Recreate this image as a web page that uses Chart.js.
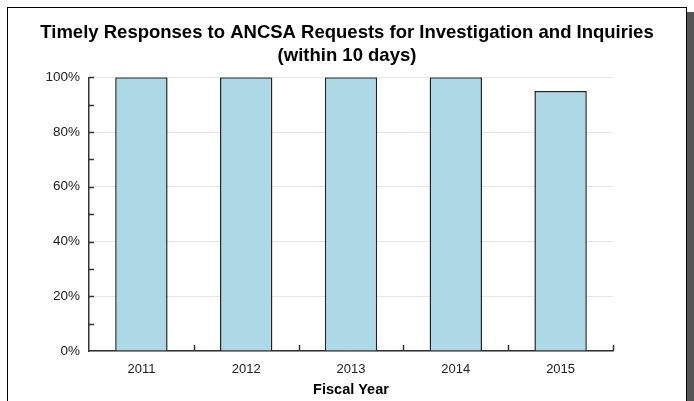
<!DOCTYPE html>
<html>
<head>
<meta charset="utf-8">
<script src="https://cdn.jsdelivr.net/npm/chart.js@4/dist/chart.umd.min.js"></script>
<style>
  html, body { margin: 0; padding: 0; background: #fff; overflow: hidden; }
  #frame {
    position: absolute; left: 7px; top: 7px; width: 678px; height: 420px;
    border-left: 1px solid #000; border-top: 1px solid #000; border-right: 1px solid #000;
    box-shadow: 8px 5px 0 #555;
    background: #fff;
  }
  #wrap { position: absolute; left: 0; top: 0; width: 694px; height: 401px; }
</style>
</head>
<body>
<div id="frame"></div>
<div id="wrap"><canvas id="timely-chart" width="694" height="401"></canvas></div>
<script>
const years = ["2011", "2012", "2013", "2014", "2015"];
const timelyPct = [100, 100, 100, 100, 95];
const titleLines = ["Timely Responses to ANCSA Requests for Investigation and Inquiries", "(within 10 days)"];

const FONT = "'Liberation Sans', Arial, sans-serif";

// small inward tick marks like the original chart
const innerTicks = {
  id: "innerTicks",
  afterDraw(chart) {
    const { ctx, scales: { x, y } } = chart;
    ctx.save();
    ctx.strokeStyle = "#333";
    ctx.lineWidth = 1.5;
    ctx.beginPath();
    for (let v = 10; v <= 100; v += 10) {
      const py = Math.round(y.getPixelForValue(v)) + 0.5;
      ctx.moveTo(x.left, py);
      ctx.lineTo(x.left + 5, py);
    }
    for (let i = 0; i < years.length; i++) {
      const px = Math.round(x.getPixelForValue(i) + (x.getPixelForValue(1) - x.getPixelForValue(0)) / 2) + 0.5;
      ctx.moveTo(px, y.bottom);
      ctx.lineTo(px, y.bottom - 6);
    }
    ctx.stroke();
    ctx.restore();
  }
};

new Chart(document.getElementById("timely-chart"), {
  type: "bar",
  data: {
    labels: years,
    datasets: [{
      data: timelyPct,
      backgroundColor: "#add8e6",
      borderColor: "#222",
      borderWidth: 1.5,
      barPercentage: 0.5,
      categoryPercentage: 1
    }]
  },
  options: {
    responsive: false,
    animation: false,
    layout: { padding: { left: 0, right: 0, top: 0, bottom: 0 } },
    plugins: {
      legend: { display: false },
      tooltip: { enabled: false },
      title: {
        display: true,
        text: titleLines,
        color: "#000",
        font: { family: FONT, size: 18.5, weight: "bold", lineHeight: 1.25 },
        padding: { top: 21, bottom: 10 }
      }
    },
    scales: {
      x: {
        offset: true,
        grid: { display: false, offset: true },
        border: { color: "#333", width: 1.5 },
        ticks: { color: "#222", font: { family: FONT, size: 13 }, padding: 3 },
        title: {
          display: true,
          text: "Fiscal Year",
          color: "#000",
          font: { family: FONT, size: 14.5, weight: "bold" },
          padding: { top: 0, bottom: 2 }
        },
        afterFit(scale) { scale.height = 50; }
      },
      y: {
        min: 0,
        max: 100,
        ticks: {
          stepSize: 20,
          color: "#222",
          font: { family: FONT, size: 13.5 },
          padding: 9,
          callback: (v) => v + "%"
        },
        grid: { color: "#e6e6e6", drawTicks: false },
        border: { color: "#333", width: 1.5 },
        afterFit(scale) { scale.width = 89; }
      },
      // empty right-side box so the plot ends where the original does
      yRight: {
        position: "right",
        display: true,
        ticks: { display: false },
        grid: { display: false },
        border: { display: false },
        afterFit(scale) { scale.width = 81; }
      }
    }
  },
  plugins: [innerTicks]
});
</script>
</body>
</html>
